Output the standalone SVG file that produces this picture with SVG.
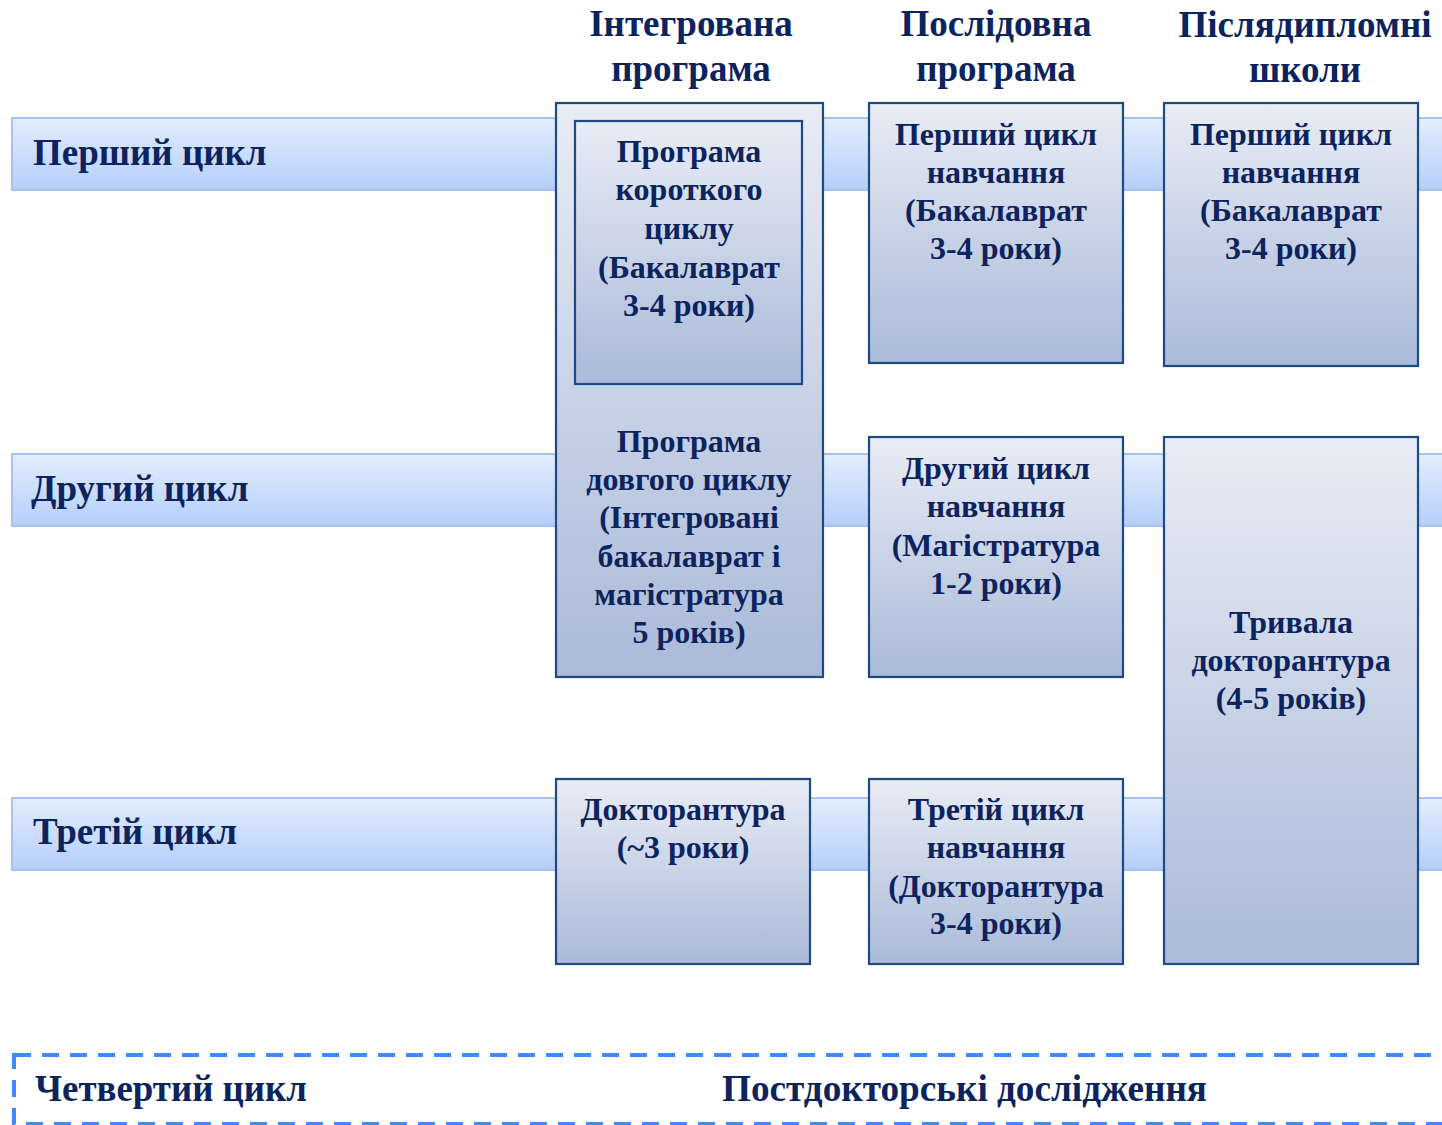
<svg xmlns="http://www.w3.org/2000/svg" width="1442" height="1125" viewBox="0 0 1442 1125">
<defs>
<linearGradient id="band" x1="0" y1="0" x2="0" y2="1"><stop offset="0" stop-color="#E3EDFD"/><stop offset="1" stop-color="#B5CEFA"/></linearGradient>
<linearGradient id="box" x1="0" y1="0" x2="0" y2="1"><stop offset="0" stop-color="#E8ECF5"/><stop offset="1" stop-color="#AABAD9"/></linearGradient>
<style>
.band{fill:url(#band);stroke:#A6C1F4;stroke-width:2}
.box{fill:url(#box);stroke:#1D4A82;stroke-width:2.2}
text{font-family:"Liberation Serif","Times New Roman",serif;font-weight:bold;fill:#0C235E}
.h{font-size:37px;text-anchor:middle}
.r{font-size:37px}
.t{font-size:32px;text-anchor:middle}
</style>
</defs>
<rect width="1442" height="1125" fill="#FFFFFF"/>
<g id="bands">
<rect class="band" x="12" y="118" width="1440" height="72"/>
<rect class="band" x="12" y="454" width="1440" height="72"/>
<rect class="band" x="12" y="798" width="1440" height="72"/>
<text class="r" x="33" y="165">Перший цикл</text>
<text class="r" x="31" y="501">Другий цикл</text>
<text class="r" x="33" y="844">Третій цикл</text>
</g>
<g id="headers">
<text class="h" x="691" y="36">Інтегрована</text>
<text class="h" x="691" y="81">програма</text>
<text class="h" x="996" y="36">Послідовна</text>
<text class="h" x="996" y="81">програма</text>
<text class="h" x="1305" y="37">Післядипломні</text>
<text class="h" x="1305" y="82">школи</text>
</g>
<g id="connectors"></g>
<g id="integrated-long">
<rect class="box" x="556" y="103" width="267" height="574"/>
<text class="t" x="689" y="452">Програма</text>
<text class="t" x="689" y="490">довгого циклу</text>
<text class="t" x="689" y="528">(Інтегровані</text>
<text class="t" x="689" y="567">бакалаврат і</text>
<text class="t" x="689" y="605">магістратура</text>
<text class="t" x="689" y="643">5 років)</text>
</g>
<g id="integrated-short">
<rect class="box" x="575" y="121" width="227" height="263"/>
<text class="t" x="689" y="162">Програма</text>
<text class="t" x="689" y="200">короткого</text>
<text class="t" x="689" y="239">циклу</text>
<text class="t" x="689" y="278">(Бакалаврат</text>
<text class="t" x="689" y="316">3-4 роки)</text>
</g>
<g id="integrated-doctorate">
<rect class="box" x="556" y="779" width="254" height="185"/>
<text class="t" x="683" y="820">Докторантура</text>
<text class="t" x="683" y="858">(~3 роки)</text>
</g>
<g id="seq-1">
<rect class="box" x="869" y="103" width="254" height="260"/>
<text class="t" x="996" y="145">Перший цикл</text>
<text class="t" x="996" y="183">навчання</text>
<text class="t" x="996" y="221">(Бакалаврат</text>
<text class="t" x="996" y="259">3-4 роки)</text>
</g>
<g id="seq-2">
<rect class="box" x="869" y="437" width="254" height="240"/>
<text class="t" x="996" y="479">Другий цикл</text>
<text class="t" x="996" y="517">навчання</text>
<text class="t" x="996" y="556">(Магістратура</text>
<text class="t" x="996" y="594">1-2 роки)</text>
</g>
<g id="seq-3">
<rect class="box" x="869" y="779" width="254" height="185"/>
<text class="t" x="996" y="820">Третій цикл</text>
<text class="t" x="996" y="858">навчання</text>
<text class="t" x="996" y="897">(Докторантура</text>
<text class="t" x="996" y="934">3-4 роки)</text>
</g>
<g id="post-1">
<rect class="box" x="1164" y="103" width="254" height="263"/>
<text class="t" x="1291" y="145">Перший цикл</text>
<text class="t" x="1291" y="183">навчання</text>
<text class="t" x="1291" y="221">(Бакалаврат</text>
<text class="t" x="1291" y="259">3-4 роки)</text>
</g>
<g id="post-long">
<rect class="box" x="1164" y="437" width="254" height="527"/>
<text class="t" x="1291" y="633">Тривала</text>
<text class="t" x="1291" y="671">докторантура</text>
<text class="t" x="1291" y="709">(4-5 років)</text>
</g>
<g id="fourth-cycle">
<rect x="14" y="1055" width="1450" height="69" fill="none" stroke="#3D8BFA" stroke-width="4" stroke-dasharray="17 11"/>
<text class="r" x="35" y="1101" font-size="34" textLength="272" lengthAdjust="spacingAndGlyphs">Четвертий цикл</text>
<text class="r" x="722" y="1101" font-size="34" textLength="485" lengthAdjust="spacingAndGlyphs">Постдокторські дослідження</text>
</g>
</svg>
